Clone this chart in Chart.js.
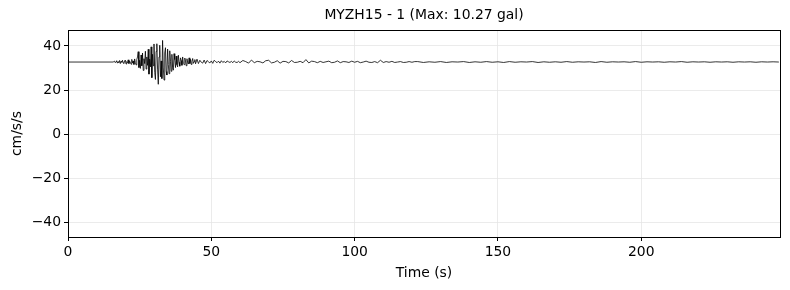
<!DOCTYPE html>
<html>
<head>
<meta charset="utf-8">
<script src="https://cdn.jsdelivr.net/npm/chart.js@4"></script>
<style>
  body { margin: 0; background: #fff; }
  #wrap { width: 790px; height: 290px; }
</style>
</head>
<body>
<div id="wrap"><canvas id="myChart" width="790" height="290"></canvas></div>
<script>
/* data (cm/s/s) */
const chartTitle = 'MYZH15 - 1 (Max: 10.27 gal)';

// quiet part before the onset
const preTimes = [0, 15.75];
const preAcc = [32.7, 32.7];

// strong motion, 0.25 s samples from 16 s
const strongStart = 16;
const strongStep = 0.25;
const strongAcc = [
  32.7, 33.1, 32.4, 32.9, 33.3, 32.2, 32.8, 32.5, 33.4, 32.0, 33.0, 32.6, 33.5, 32.3, 32.1, 33.2,
  33.6, 31.8, 32.9, 32.4, 33.7, 32.0, 33.1, 32.6, 31.7, 33.9, 32.3, 33.2, 31.6, 34.1, 32.5, 31.4, 33.8,
  35.0, 37.4, 30.2, 33.5, 29.8, 35.9, 31.0, 36.8, 28.9, 34.2, 32.0, 37.6, 29.5, 35.0, 31.2,
  38.5, 27.2, 34.0, 30.5, 39.6, 25.6, 36.2, 31.0, 40.9, 28.0, 24.8, 37.5, 41.0, 29.5, 22.6, 35.0,
  40.3, 26.0, 33.2, 25.2, 42.5, 30.0, 24.5, 36.8, 39.2, 28.4, 26.8, 38.6, 31.5, 27.4, 37.8, 33.0,
  28.5, 36.2, 30.1, 29.0, 36.5, 33.8, 30.2, 35.4, 31.5, 30.5, 35.8, 32.6, 30.8, 34.6, 33.4, 31.2,
  35.0, 32.0, 31.5, 34.5, 33.2, 31.0, 34.2, 32.4, 31.8, 34.6, 32.0, 33.9, 31.6, 33.0, 34.3, 32.1,
  32.9, 33.8, 31.9
];

// late strong motion, 0.5 s samples from 45 s
const lateStart = 45;
const lateStep = 0.5;
const lateAcc = [
  34.0, 32.0, 33.5, 32.6, 32.2, 33.6, 32.0, 33.4, 32.8, 32.3, 33.2, 32.1, 33.5, 32.9, 32.4, 33.1,
  32.2, 33.3, 32.5, 33.0, 32.3, 33.2, 32.8, 32.5, 33.0, 32.4, 33.2, 32.6, 32.5, 33.0, 32.4
];

// coda, 1 s samples from 61 s
const codaStart = 61;
const codaStep = 1;
const codaAcc = [
  33.4, 32.9, 32.2, 33.6, 32.4, 33.0, 32.8, 32.3, 33.3, 33.5, 32.3, 32.6, 33.3, 32.2, 33.0,
  32.9, 32.3, 33.4, 32.5, 32.6, 33.0, 32.4, 33.8, 32.3, 33.1, 32.9, 32.4, 33.0, 32.5, 32.8,
  33.1, 32.4, 32.6, 33.2, 32.4, 32.9, 32.8, 32.5, 33.1, 32.6, 33.0, 32.4, 32.7, 33.1, 32.6,
  32.5, 32.9, 32.4, 33.5, 32.5, 32.9, 32.6, 33.0, 32.5, 32.7, 32.9, 32.5, 32.6, 32.9, 32.6,
  32.9
];

// tail, 2 s samples from 122 s
const tailStart = 122;
const tailStep = 2;
const tailAcc = [
  32.9, 32.5, 32.8, 32.6, 32.9, 32.5, 32.8, 32.7, 32.9, 32.5, 32.8, 32.6, 32.9, 32.6, 32.8, 32.5,
  32.9, 32.6, 32.8, 32.7, 32.9, 32.5, 32.8, 32.6, 32.8, 32.6, 32.9, 32.6, 32.8, 32.7, 32.8, 32.5,
  32.9, 32.6, 32.8, 32.7, 32.8, 32.6, 32.9, 32.6, 32.8, 32.7, 32.8, 32.6, 32.8, 32.7, 32.9, 32.6,
  32.8, 32.7, 32.8, 32.6, 32.8, 32.7, 32.8, 32.6, 32.8, 32.7, 32.8, 32.6, 32.8, 32.7, 32.8, 32.7
];

const xTicks = [0, 50, 100, 150, 200];
const yTicks = [-40, -20, 0, 20, 40];

/* build points */
const points = [];
preTimes.forEach(function(t, i) { points.push({ x: t, y: preAcc[i] }); });
strongAcc.forEach(function(v, i) { points.push({ x: strongStart + i * strongStep, y: v }); });
lateAcc.forEach(function(v, i) { points.push({ x: lateStart + i * lateStep, y: v }); });
codaAcc.forEach(function(v, i) { points.push({ x: codaStart + i * codaStep, y: v }); });
tailAcc.forEach(function(v, i) { points.push({ x: tailStart + i * tailStep, y: v }); });

const FONT = { family: 'DejaVu Sans', size: 13.9 };

// full black frame round the axes
const framePlugin = {
  id: 'frame',
  afterDraw: function(chart) {
    const a = chart.chartArea;
    const c = chart.ctx;
    c.save();
    c.strokeStyle = '#000';
    c.lineWidth = 1;
    c.strokeRect(Math.round(a.left) + 0.5, Math.round(a.top) + 0.5,
      Math.round(a.right - a.left), Math.round(a.bottom - a.top));
    c.restore();
  }
};

new Chart(document.getElementById('myChart').getContext('2d'), {
  type: 'line',
  data: {
    datasets: [{
      data: points,
      borderColor: '#000',
      borderWidth: 0.8,
      pointRadius: 0,
      tension: 0,
      fill: false
    }]
  },
  options: {
    responsive: false,
    animation: false,
    layout: { padding: { left: 0, right: 10, top: 0, bottom: 0 } },
    plugins: {
      legend: { display: false },
      tooltip: { enabled: false },
      title: {
        display: true,
        text: chartTitle,
        fullSize: false,
        color: '#000',
        font: { family: 'DejaVu Sans', size: 13.9, weight: 'normal' },
        padding: { top: 7, bottom: 6.4 }
      }
    },
    scales: {
      x: {
        type: 'linear',
        min: 0,
        max: 248.4,
        afterFit: function(s) { s.height = 53; },
        afterBuildTicks: function(s) { s.ticks = xTicks.map(function(v) { return { value: v }; }); },
        ticks: { color: '#000', font: FONT, padding: 3, maxRotation: 0 },
        grid: { color: '#e6e6e6', lineWidth: 0.8, tickColor: '#000', tickLength: 4, tickWidth: 1 },
        border: { display: false },
        title: { display: true, text: 'Time (s)', color: '#000', font: FONT, padding: { top: 0, bottom: 8 } }
      },
      y: {
        min: -46.7,
        max: 47.2,
        afterFit: function(s) { s.width = 68; },
        afterBuildTicks: function(s) { s.ticks = yTicks.map(function(v) { return { value: v }; }); },
        ticks: {
          color: '#000', font: FONT, padding: 3,
          callback: function(v) { return v < 0 ? '\u2212' + Math.abs(v) : String(v); }
        },
        grid: { color: '#e6e6e6', lineWidth: 0.8, tickColor: '#000', tickLength: 4, tickWidth: 1 },
        border: { display: false },
        title: { display: true, text: 'cm/s/s', color: '#000', font: FONT, padding: { top: 9, bottom: 0 } }
      }
    }
  },
  plugins: [framePlugin]
});
</script>
</body>
</html>
